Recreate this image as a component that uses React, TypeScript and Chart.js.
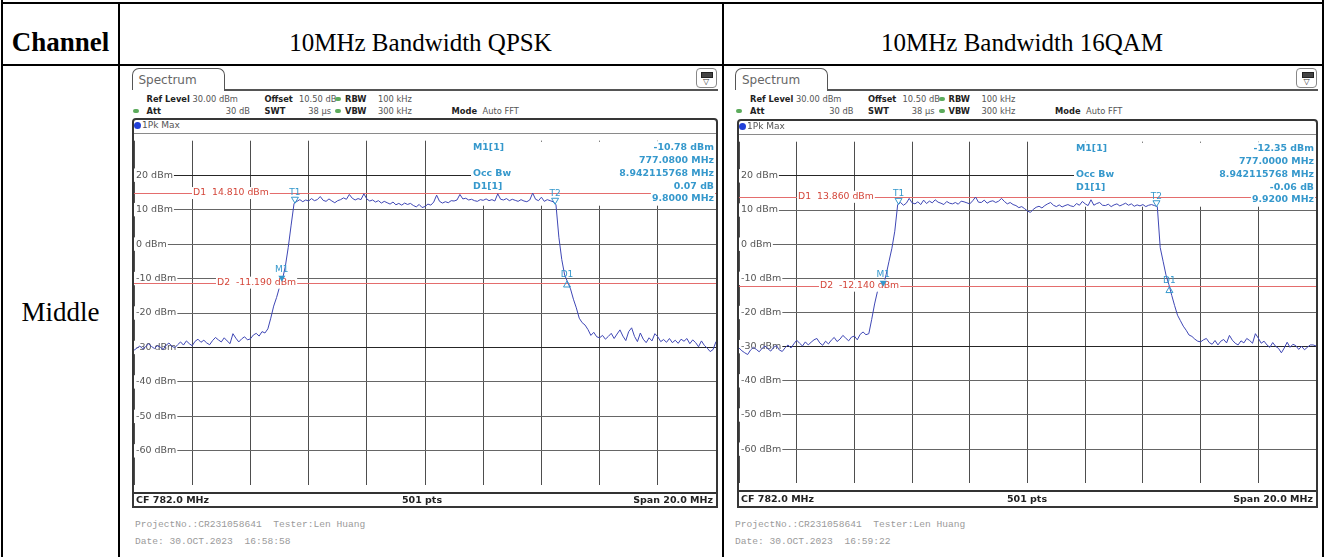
import React, { useEffect, useRef } from 'react';
import { Chart, registerables } from 'chart.js';

Chart.register(...registerables);

// ---------------- data ----------------
const FREQ_START_MHZ = 772.0;
const FREQ_STEP_MHZ = 0.1;
const SPAN_MIN_MHZ = 772;
const SPAN_MAX_MHZ = 792;
const FREQ_GRID_MHZ = 2;
const LEVEL_MIN_DBM = -70;
const LEVEL_MAX_DBM = 30;
const LEVEL_GRID_DB = 10;

const tableHeaders = ['Channel', '10MHz Bandwidth QPSK', '10MHz Bandwidth 16QAM'];
const rowLabels = ['Middle'];

// trace levels (dBm), one value every 0.1 MHz from 772.0 MHz to 792.0 MHz
const qpskLevels = [
  -30.8, -30.2, -29.6, -30.4, -29.8, -28.9, -29.7, -30.3, -29.5, -29.9,
  -30.6, -29.4, -28.7, -29.6, -30.1, -29.2, -28.4, -29.3, -28.1, -28.9,
  -29.5, -28.2, -27.6, -28.5, -27.9, -28.7, -29.2, -28.0, -27.1, -27.8,
  -28.4, -27.2, -28.1, -28.9, -26.0, -27.3, -28.4, -27.5, -26.9, -27.8,
  -27.5, -26.4, -25.9, -26.7, -25.4, -25.8, -24.6, -21.5, -18.0, -15.5,
  -12.5, -10.3, -6.5, -1.0, 5.5, 11.8, 12.4, 12.9, 12.3, 12.8,
  12.5, 13.2, 12.6, 12.9, 13.8, 12.7, 12.4, 13.1, 12.5, 12.0,
  12.6, 12.9, 13.4, 13.0, 14.4, 13.3, 12.8, 13.2, 12.9, 14.6,
  13.1, 12.5, 12.8, 12.2, 12.6, 11.9, 12.4, 12.0, 11.6, 12.2,
  11.4, 11.8, 11.3, 11.9, 11.5, 11.8, 11.2, 10.8, 11.5, 10.6,
  10.9, 11.6, 11.3, 12.2, 14.2, 12.4, 11.9, 12.3, 12.0, 12.6,
  12.5, 12.8, 14.4, 13.1, 13.3, 12.8, 13.0, 12.6, 12.4, 12.9,
  12.7, 13.1, 12.6, 12.9, 12.5, 14.6, 13.0, 12.8, 13.2, 12.6,
  13.0, 12.7, 12.4, 12.9, 12.5, 12.3, 12.8, 14.8, 13.0, 12.6,
  13.6, 12.4, 12.9, 12.6, 12.3, 11.5, 2.0, -4.5, -9.0, -11.0,
  -13.0, -16.0, -18.5, -21.5, -22.8, -23.5, -24.8, -26.5, -25.6, -26.9,
  -27.2, -26.5, -27.6, -26.8, -25.9, -27.4, -26.1, -24.9, -26.7, -28.0,
  -25.4, -24.3, -26.8, -28.3, -25.8, -27.6, -28.6, -27.2, -28.1, -26.0,
  -26.9, -28.3, -27.7, -28.5, -27.4, -28.6, -27.9, -28.8, -27.6, -28.2,
  -27.4, -28.9, -27.8, -28.6, -29.8, -28.1, -29.4, -30.2, -31.2, -30.6,
  -28.3,
];

const qam16Levels = [
  -30.4, -31.2, -31.8, -32.3, -31.0, -30.2, -30.8, -31.5, -30.5, -29.8,
  -30.6, -31.3, -30.2, -29.7, -31.0, -31.4, -30.3, -29.5, -30.4, -29.2,
  -28.1, -29.0, -29.8, -28.6, -29.5, -28.7, -28.0, -27.6, -28.9, -29.6,
  -28.4, -29.2, -28.1, -27.3, -28.5, -27.8, -26.7, -27.5, -28.3, -27.2,
  -26.9, -28.0, -26.4, -25.7, -26.5, -26.2, -22.0, -17.5, -13.8, -13.0,
  -12.3, -8.9, -5.0, -1.2, 3.8, 11.6, 12.2, 11.4, 12.0, 13.4,
  12.1, 11.8, 12.4, 11.6, 12.9, 11.9, 12.6, 12.1, 13.0, 12.3,
  12.0, 11.6, 12.5, 12.0, 11.8, 12.2, 11.7, 12.6, 12.4, 12.1,
  11.8, 12.7, 13.8, 12.3, 12.2, 12.9, 12.0, 12.5, 12.7, 12.2,
  12.6, 13.4, 12.5, 11.8, 12.2, 11.6, 11.3, 10.7, 11.0, 10.4,
  9.7, 9.3, 10.2, 10.8, 11.1, 10.6, 11.3, 11.8, 12.2, 11.4,
  11.0, 11.5, 10.9, 11.3, 11.6, 11.2, 11.0, 11.9, 11.4, 12.5,
  11.8, 11.3, 13.0, 11.4, 11.9, 12.2, 11.4, 11.3, 11.7, 11.0,
  11.5, 11.8, 11.2, 11.6, 12.0, 11.4, 11.8, 11.1, 11.5, 11.2,
  11.6, 11.0, 11.4, 11.6, 11.3, 11.0, -1.0, -5.0, -9.0, -11.8,
  -15.0, -18.0, -20.8, -22.4, -24.0, -25.2, -26.6, -27.0, -27.8, -28.4,
  -28.6, -28.0, -27.6, -28.8, -29.3, -28.2, -29.5, -28.4, -27.9, -28.9,
  -26.7, -28.1, -29.0, -29.5, -28.3, -28.9, -27.6, -28.2, -29.0, -26.2,
  -27.5, -29.0, -28.4, -29.5, -30.2, -28.8, -29.9, -30.5, -31.8, -30.4,
  -28.7, -30.2, -29.3, -29.7, -30.8, -29.9, -30.9, -30.2, -29.5, -29.5,
  -29.8,
];

const qpskMarkerNames = ['T1', 'M1', 'T2', 'D1'];
const qpskMarkerFreqs = [777.53, 777.08, 786.47, 786.88];
const qpskMarkerLevels = [12.0, -10.78, 11.7, -10.71];
const qpskLineLevels = [14.81, -11.19];
const qpskLineTexts = ['D1  14.810 dBm', 'D2  -11.190 dBm'];
const qpskInfoNames = ['M1[1]', '', 'Occ Bw', 'D1[1]', ''];
const qpskInfoValues = ['-10.78 dBm', '777.0800 MHz', '8.942115768 MHz', '0.07 dB', '9.8000 MHz'];
const qpskFooter = ['ProjectNo.:CR231058641  Tester:Len Huang', 'Date: 30.OCT.2023  16:58:58'];

const qam16MarkerNames = ['T1', 'M1', 'T2', 'D1'];
const qam16MarkerFreqs = [777.53, 777.0, 786.47, 786.92];
const qam16MarkerLevels = [11.8, -12.35, 11.1, -12.41];
const qam16LineLevels = [13.86, -12.14];
const qam16LineTexts = ['D1  13.860 dBm', 'D2  -12.140 dBm'];
const qam16InfoNames = ['M1[1]', '', 'Occ Bw', 'D1[1]', ''];
const qam16InfoValues = ['-12.35 dBm', '777.0000 MHz', '8.942115768 MHz', '-0.06 dB', '9.9200 MHz'];
const qam16Footer = ['ProjectNo.:CR231058641  Tester:Len Huang', 'Date: 30.OCT.2023  16:59:22'];

const bottomBarTexts = ['CF 782.0 MHz', '501 pts', 'Span 20.0 MHz'];

// ---------------- styles ----------------
const SANS = '"DejaVu Sans", Verdana, sans-serif';
const SERIF = '"Liberation Serif", "Times New Roman", serif';
const MONO = '"Liberation Mono", "Courier New", monospace';
const TRACE = '#3f47b5';
const TEAL = '#3598cc';
const RED_LINE = '#e46d6d';
const RED_TEXT = '#d4463a';
const INFO_ROWS = [6.5, 19.5, 33, 45.5, 58];
const INFO_BOX_H = 64;
const HDR = 8.3;

type Layout = {
  tabLeft: number;
  right: number;
  plotLeft: number;
  plotTop: number;
  plotW: number;
  plotH: number;
  frameTop: number;
  frameBottom: number;
  infoX: number;
  lineLabelX: number[];
  footerX: number;
};

type Trace = {
  levels: number[];
  markerNames: string[];
  markerFreqs: number[];
  markerLevels: number[];
  lineLevels: number[];
  lineTexts: string[];
  infoNames: string[];
  infoValues: string[];
  footer: string[];
};

const Txt = ({ x, y, s, size = 9.5, bold = false, color = '#333', align = 'left', family = SANS }: any) => (
  <div
    style={{
      position: 'absolute',
      left: x,
      top: y,
      transform: `translate(${align === 'left' ? '0' : align === 'right' ? '-100%' : '-50%'}, -50%)`,
      fontFamily: family,
      fontSize: size,
      fontWeight: bold ? 700 : 400,
      color,
      whiteSpace: 'pre',
      lineHeight: 1,
    }}
  >
    {s}
  </div>
);

function textWithBg(ctx: CanvasRenderingContext2D, s: string, x: number, y: number, align: 'left' | 'right' | 'center', color: string, bg: boolean) {
  const w = ctx.measureText(s).width;
  let left = x;
  if (align === 'right') left = x - w;
  if (align === 'center') left = x - w / 2;
  if (bg) {
    ctx.fillStyle = '#ffffff';
    ctx.fillRect(left - 1, y - 6, w + 2, 12);
  }
  ctx.fillStyle = color;
  ctx.textAlign = 'left';
  ctx.textBaseline = 'middle';
  ctx.fillText(s, left, y);
}

function SpectrumCanvas({ L, T }: { L: Layout; T: Trace }) {
  const ref = useRef<HTMLCanvasElement>(null);
  useEffect(() => {
    const canvas = ref.current;
    if (!canvas) return;
    const points = T.levels.map((v, i) => ({ x: FREQ_START_MHZ + i * FREQ_STEP_MHZ, y: v }));
    const overlay = {
      id: 'rsOverlay',
      beforeDatasetsDraw(chart: any) {
        const { ctx, chartArea: a, scales } = chart;
        ctx.save();
        const boxLeft = a.left + L.infoX - 2;
        ctx.fillStyle = '#ffffff';
        ctx.fillRect(boxLeft, a.top + 1, a.right - boxLeft, INFO_BOX_H);
        ctx.strokeStyle = RED_LINE;
        ctx.lineWidth = 1;
        T.lineLevels.forEach((lv) => {
          const y = Math.round(scales.y.getPixelForValue(lv)) + 0.5;
          ctx.beginPath();
          ctx.moveTo(a.left, y);
          ctx.lineTo(a.right, y);
          ctx.stroke();
        });
        ctx.restore();
      },
      afterDatasetsDraw(chart: any) {
        const { ctx, chartArea: a, scales } = chart;
        ctx.save();
        ctx.font = `9.3px ${SANS}`;
        T.lineLevels.forEach((lv, i) => {
          const y = scales.y.getPixelForValue(lv);
          textWithBg(ctx, T.lineTexts[i], a.left + L.lineLabelX[i], y, 'left', RED_TEXT, true);
        });
        ctx.font = `bold 9.4px ${SANS}`;
        T.infoNames.forEach((n, i) => {
          if (n) textWithBg(ctx, n, a.left + L.infoX, a.top + INFO_ROWS[i], 'left', TEAL, true);
        });
        T.infoValues.forEach((v, i) => {
          textWithBg(ctx, v, a.right - 2, a.top + INFO_ROWS[i], 'right', TEAL, true);
        });
        T.markerNames.forEach((name, i) => {
          const px = scales.x.getPixelForValue(T.markerFreqs[i]);
          const py = scales.y.getPixelForValue(T.markerLevels[i]);
          const kind = name[0];
          ctx.strokeStyle = TEAL;
          ctx.fillStyle = TEAL;
          ctx.lineWidth = 1;
          ctx.beginPath();
          let labelY = py - 10;
          if (kind === 'D') {
            ctx.moveTo(px, py);
            ctx.lineTo(px - 3.5, py + 6);
            ctx.lineTo(px + 3.5, py + 6);
            ctx.closePath();
            ctx.stroke();
            labelY = py - 6;
          } else {
            ctx.moveTo(px - 3.5, py - 5.5);
            ctx.lineTo(px + 3.5, py - 5.5);
            ctx.lineTo(px, py + 0.5);
            ctx.closePath();
            if (kind === 'M') ctx.fill();
            else ctx.stroke();
            labelY = kind === 'M' ? py - 12 : py - 10;
          }
          ctx.font = `9px ${SANS}`;
          ctx.fillStyle = TEAL;
          ctx.textAlign = 'center';
          ctx.textBaseline = 'middle';
          ctx.fillText(name, px, labelY);
        });
        ctx.restore();
      },
    };
    const chart = new Chart(canvas, {
      type: 'line',
      data: {
        datasets: [
          {
            data: points,
            borderColor: TRACE,
            borderWidth: 1,
            pointRadius: 0,
            tension: 0,
            fill: false,
          },
        ],
      },
      options: {
        animation: false,
        responsive: false,
        maintainAspectRatio: false,
        devicePixelRatio: 1,
        events: [],
        layout: { padding: 0 },
        plugins: { legend: { display: false }, tooltip: { enabled: false }, title: { display: false } },
        scales: {
          x: {
            type: 'linear',
            min: SPAN_MIN_MHZ,
            max: SPAN_MAX_MHZ,
            afterFit: (s: any) => {
              s.height = 0;
            },
            ticks: { display: false, stepSize: FREQ_GRID_MHZ },
            grid: { color: '#4e4e4e', lineWidth: 1, drawTicks: false },
            border: { display: false },
          },
          y: {
            type: 'linear',
            position: 'left',
            min: LEVEL_MIN_DBM,
            max: LEVEL_MAX_DBM,
            afterFit: (s: any) => {
              s.width = 0;
            },
            ticks: {
              stepSize: LEVEL_GRID_DB,
              mirror: true,
              padding: 2,
              color: '#555',
              font: { family: SANS, size: 9.5 },
              showLabelBackdrop: true,
              backdropColor: '#ffffff',
              backdropPadding: { top: 1, bottom: 1, left: 2, right: 1 },
              callback: (v: any) => (v === LEVEL_MAX_DBM || v === LEVEL_MIN_DBM ? null : `${v} dBm`),
            },
            grid: {
              drawTicks: false,
              lineWidth: 1,
              color: (c: any) => (c.tick && (c.tick.value === 20 || c.tick.value === -30) ? '#262626' : '#666666'),
            },
            border: { display: false },
          },
        },
      } as any,
      plugins: [overlay as any],
    });
    return () => chart.destroy();
  }, []);
  return (
    <canvas
      ref={ref}
      width={L.plotW}
      height={L.plotH}
      style={{ position: 'absolute', left: L.plotLeft, top: L.plotTop, width: L.plotW, height: L.plotH }}
    />
  );
}

function Dot({ x, y, color, w = 6, h = 4 }: any) {
  return (
    <div
      style={{
        position: 'absolute',
        left: x - w / 2,
        top: y - h / 2,
        width: w,
        height: h,
        borderRadius: h,
        background: color,
      }}
    />
  );
}

function Screenshot({ L, T }: { L: Layout; T: Trace }) {
  const x0 = L.tabLeft;
  const plotRight = L.plotLeft + L.plotW;
  const plotBottom = L.plotTop + L.plotH;
  const barY = (plotBottom + L.frameBottom) / 2;
  const r1 = 99;
  const r2 = 111;
  return (
    <>
      <div
        style={{
          position: 'absolute',
          left: x0,
          top: 68,
          width: 93,
          height: 22,
          boxSizing: 'border-box',
          border: '1.5px solid #555',
          borderBottom: 'none',
          borderRadius: '7px 7px 0 0',
        }}
      />
      <Txt x={x0 + 7} y={79.5} s="Spectrum" size={12} color="#666" />
      <div style={{ position: 'absolute', left: x0 + 92, top: 89, width: L.right - x0 - 92, height: 1.5, background: '#555' }} />
      <div
        style={{
          position: 'absolute',
          left: L.right - 22,
          top: 68,
          width: 21,
          height: 20,
          boxSizing: 'border-box',
          border: '1px solid #888',
          borderRadius: 4,
          background: '#fff',
        }}
      />
      <div style={{ position: 'absolute', left: L.right - 16.5, top: 72, width: 10, height: 4, background: '#444', border: '1px solid #222' }} />
      <Txt x={L.right - 11.5} y={82} s="▽" size={8} color="#333" align="center" />
      <Txt x={x0 + 15} y={r1} s="Ref Level" size={HDR} bold color="#222" />
      <Txt x={x0 + 61} y={r1} s="30.00 dBm" size={HDR} color="#555" />
      <Txt x={x0 + 133} y={r1} s="Offset" size={HDR} bold color="#222" />
      <Txt x={x0 + 167.5} y={r1} s="10.50 dB" size={HDR} color="#555" />
      <Dot x={x0 + 206.5} y={r1} color="#5cab5c" />
      <Txt x={x0 + 213.5} y={r1} s="RBW" size={HDR} bold color="#222" />
      <Txt x={x0 + 246.5} y={r1} s="100 kHz" size={HDR} color="#555" />
      <Dot x={x0 + 4} y={r2} color="#5cab5c" />
      <Txt x={x0 + 15} y={r2} s="Att" size={HDR} bold color="#222" />
      <Txt x={x0 + 118.5} y={r2} s="30 dB" size={HDR} color="#555" align="right" />
      <Txt x={x0 + 133} y={r2} s="SWT" size={HDR} bold color="#222" />
      <Txt x={x0 + 199.5} y={r2} s="38 µs" size={HDR} color="#555" align="right" />
      <Dot x={x0 + 206.5} y={r2} color="#5cab5c" />
      <Txt x={x0 + 213.5} y={r2} s="VBW" size={HDR} bold color="#222" />
      <Txt x={x0 + 246.5} y={r2} s="300 kHz" size={HDR} color="#555" />
      <Txt x={x0 + 320} y={r2} s="Mode" size={HDR} bold color="#222" />
      <Txt x={x0 + 351} y={r2} s="Auto FFT" size={HDR} color="#555" />
      <div
        style={{
          position: 'absolute',
          left: L.plotLeft - 2,
          top: L.frameTop,
          width: L.plotW + 4,
          height: L.frameBottom - L.frameTop,
          boxSizing: 'border-box',
          border: '2px solid #363636',
          borderRadius: '4px 4px 0 0',
        }}
      />
      <Dot x={L.plotLeft + 3.5} y={L.frameTop + 7} color="#2140d8" w={7} h={7} />
      <Txt x={L.plotLeft + 8} y={L.frameTop + 7} s="1Pk Max" size={9} color="#555" />
      <SpectrumCanvas L={L} T={T} />
      <div style={{ position: 'absolute', left: L.plotLeft, top: L.plotTop - 0.5, width: L.plotW, height: 1, background: '#8a8a8a' }} />
      <div style={{ position: 'absolute', left: L.plotLeft, top: plotBottom - 1, width: L.plotW, height: 1.5, background: '#333' }} />
      <Txt x={L.plotLeft + 2} y={barY} s={bottomBarTexts[0]} bold color="#222" />
      <Txt x={L.plotLeft + 288} y={barY} s={bottomBarTexts[1]} bold color="#222" align="center" />
      <Txt x={plotRight - 3} y={barY} s={bottomBarTexts[2]} bold color="#222" align="right" />
      <Txt x={L.footerX} y={525} s={T.footer[0]} family={MONO} size={9.6} color="#9a9a9a" />
      <Txt x={L.footerX} y={542} s={T.footer[1]} family={MONO} size={9.6} color="#9a9a9a" />
    </>
  );
}

const layoutQpsk: Layout = {
  tabLeft: 131.5,
  right: 717.5,
  plotLeft: 134,
  plotTop: 133,
  plotW: 582,
  plotH: 360,
  frameTop: 118,
  frameBottom: 507.5,
  infoX: 339,
  lineLabelX: [59, 83],
  footerX: 135,
};

const layoutQam16: Layout = {
  tabLeft: 735,
  right: 1318,
  plotLeft: 739,
  plotTop: 134,
  plotW: 577,
  plotH: 357,
  frameTop: 119,
  frameBottom: 507.5,
  infoX: 337,
  lineLabelX: [59, 81],
  footerX: 735,
};

const traceQpsk: Trace = {
  levels: qpskLevels,
  markerNames: qpskMarkerNames,
  markerFreqs: qpskMarkerFreqs,
  markerLevels: qpskMarkerLevels,
  lineLevels: qpskLineLevels,
  lineTexts: qpskLineTexts,
  infoNames: qpskInfoNames,
  infoValues: qpskInfoValues,
  footer: qpskFooter,
};

const traceQam16: Trace = {
  levels: qam16Levels,
  markerNames: qam16MarkerNames,
  markerFreqs: qam16MarkerFreqs,
  markerLevels: qam16MarkerLevels,
  lineLevels: qam16LineLevels,
  lineTexts: qam16LineTexts,
  infoNames: qam16InfoNames,
  infoValues: qam16InfoValues,
  footer: qam16Footer,
};

const Line = ({ x, y, w, h }: any) => (
  <div style={{ position: 'absolute', left: x, top: y, width: w, height: h, background: '#000' }} />
);

export default function App() {
  return (
    <div
      style={{
        position: 'fixed',
        left: 0,
        top: 0,
        width: 1325,
        height: 557,
        background: '#fff',
        overflow: 'hidden',
      }}
    >
      <Line x={1} y={1.5} w={1323} h={2} />
      <Line x={1} y={64} w={1323} h={2} />
      <Line x={1} y={0} w={2} h={557} />
      <Line x={118} y={1.5} w={2} h={556} />
      <Line x={721.5} y={1.5} w={2} h={556} />
      <Line x={1322} y={0} w={2} h={557} />
      <Txt x={60.5} y={42} s={tableHeaders[0]} family={SERIF} size={27} bold color="#000" align="center" />
      <Txt x={420.5} y={42} s={tableHeaders[1]} family={SERIF} size={25} color="#000" align="center" />
      <Txt x={1022} y={42} s={tableHeaders[2]} family={SERIF} size={25} color="#000" align="center" />
      <Txt x={60.5} y={312} s={rowLabels[0]} family={SERIF} size={27} color="#000" align="center" />
      <Screenshot L={layoutQpsk} T={traceQpsk} />
      <Screenshot L={layoutQam16} T={traceQam16} />
    </div>
  );
}
